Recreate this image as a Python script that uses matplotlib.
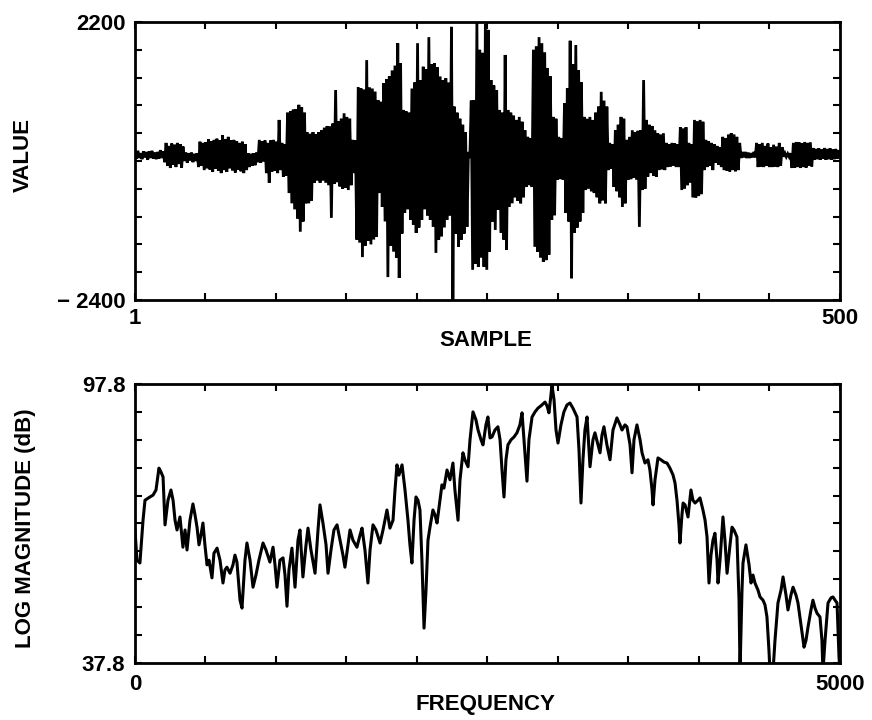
import matplotlib
matplotlib.use("Agg")
import matplotlib.pyplot as plt
import numpy as np

plt.rcParams['font.family'] = ['Liberation Sans', 'DejaVu Sans']
plt.rcParams['font.weight'] = 'bold'

# speech waveform, 500 samples
value = [
    40, -60, 70, -50, 30, -70, 60, -40, 50, -80,
    60, -50, 70, -60, 40, -70, 50, -60, 80, -50,
    60, -120, 200, -180, 150, -215, 190, -160, 170, -200,
    200, -150, 180, -210, 140, -100, 40, -130, 30, -90,
    40, -120, 20, -100, 30, -200, 220, -180, 200, -250,
    210, -220, 260, -240, 230, -280, 250, -230, 270, -260,
    240, -300, 330, -250, 260, -280, 300, -220, 240, -260,
    250, -290, 230, -240, 200, -270, 220, -300, 180, -250,
    30, -200, 20, -180, 30, -170, 40, -120, 250, -130,
    230, -110, 240, -300, 200, -460, 240, -280, 250, -260,
    220, -300, 580, -250, 200, -360, 180, -340, 700, -630,
    720, -800, 750, -900, 760, -1050, 830, -1270, 790, -1100,
    700, -800, 380, -800, 350, -760, 380, -460, 340, -420,
    380, -460, 410, -420, 450, -460, 480, -500, 470, -1040,
    520, -480, 1075, -450, 560, -520, 600, -560, 690, -540,
    630, -580, 600, -500, 250, -300, 240, -1400, 1125, -1450,
    1100, -1690, 1080, -1500, 1570, -1420, 1120, -1480, 1100, -1400,
    1050, -1350, 910, -630, 880, -860, 1190, -1100, 1250, -2020,
    1300, -1500, 1400, -1600, 1480, -1700, 1850, -2035, 1520, -1300,
    745, -960, 720, -900, 700, -1075, 1100, -1150, 1200, -1290,
    1850, -1200, 1240, -1075, 1460, -900, 1420, -1000, 1950, -1075,
    1500, -1190, 1520, -1620, 1450, -1400, 1300, -1350, 1240, -1200,
    1270, -1075, 1200, -1000, 2120, -2400, 800, -1300, 700, -1520,
    600, -1400, 500, -1300, 380, -1190, 50, -50, 900, -1900,
    910, -1800, 2185, -1850, 1740, -1700, 1690, -1850, 2170, -1900,
    2070, -1600, 1240, -1100, 1150, -1240, 1075, -910, 745, -1290,
    700, -1400, 1655, -1570, 745, -860, 700, -800, 650, -700,
    580, -760, 630, -800, 550, -700, 410, -530, 300, -500,
    280, -530, 1740, -1520, 1800, -1600, 1950, -1700, 1850, -1770,
    1700, -1740, 1440, -1650, 1300, -1075, 630, -1000, 600, -410,
    300, -400, 280, -410, 860, -960, 1100, -1100, 1890, -2040,
    1500, -1290, 1820, -1200, 1400, -1100, 1200, -960, 630, -580,
    600, -560, 630, -600, 580, -630, 700, -700, 800, -800,
    1045, -750, 900, -800, 800, -250, 200, -230, 180, -530,
    410, -600, 500, -700, 630, -860, 600, -800, 250, -410,
    300, -400, 410, -380, 380, -410, 400, -1190, 410, -580,
    1240, -560, 580, -360, 500, -300, 480, -340, 410, -360,
    360, -250, 340, -240, 360, -250, 200, -200, 180, -190,
    200, -180, 190, -200, 180, -200, 460, -580, 440, -560,
    460, -500, 200, -460, 180, -700, 580, -710, 560, -680,
    580, -650, 550, -250, 250, -200, 230, -180, 200, -250,
    180, -130, 150, -160, 130, -200, 300, -250, 280, -260,
    340, -280, 360, -250, 340, -270, 300, -250, 200, -50,
    50, -40, 50, -50, 40, -50, 30, -40, 50, -40,
    200, -200, 180, -190, 200, -200, 150, -180, 190, -200,
    130, -200, 170, -190, 140, -200, 200, -180, 130, -30,
    30, -30, 20, -30, 30, -215, 200, -210, 215, -200,
    210, -215, 190, -200, 215, -210, 200, -180, 210, -190,
    115, -80, 100, -70, 110, -80, 90, -60, 115, -80,
    100, -70, 110, -80, 90, -70, 100, -60, 80, -40,
]
sample = np.arange(1, len(value) + 1)

# log magnitude spectrum (Hz, dB)
freq = [
    0, 14, 35, 57, 71, 106, 128, 149, 170, 184, 199, 213, 234, 255, 270, 284,
    298, 319, 340, 355, 369, 390, 411, 426, 440, 454, 468, 482, 496, 511, 525,
    546, 560, 582, 603, 624, 638, 652, 674, 695, 709, 723, 745, 759, 780, 794,
    816, 837, 858, 879, 908, 929, 957, 979, 993, 1007, 1028, 1050, 1064, 1078,
    1092, 1113, 1135, 1156, 1170, 1191, 1213, 1227, 1248, 1277, 1298, 1312,
    1333, 1355, 1369, 1390, 1411, 1433, 1454, 1475, 1489, 1511, 1525, 1546,
    1574, 1596, 1610, 1631, 1652, 1667, 1688, 1709, 1738, 1759, 1787, 1808,
    1830, 1844, 1858, 1872, 1894, 1915, 1936, 1950, 1964, 1979, 1993, 2007,
    2021, 2035, 2050, 2064, 2078, 2092, 2113, 2128, 2142, 2163, 2177, 2191,
    2213, 2234, 2255, 2269, 2291, 2305, 2326, 2340, 2362, 2376, 2397, 2418,
    2433, 2454, 2468, 2489, 2503, 2518, 2532, 2553, 2574, 2589, 2603, 2617,
    2631, 2645, 2667, 2688, 2709, 2730, 2745, 2759, 2780, 2794, 2816, 2837,
    2858, 2879, 2908, 2922, 2936, 2950, 2957, 2972, 2986, 3000, 3021, 3042,
    3064, 3085, 3106, 3135, 3149, 3163, 3177, 3191, 3206, 3227, 3248, 3262,
    3284, 3298, 3312, 3326, 3347, 3369, 3390, 3418, 3440, 3454, 3475, 3489,
    3511, 3525, 3539, 3560, 3582, 3596, 3617, 3638, 3652, 3667, 3674, 3688,
    3709, 3730, 3752, 3773, 3794, 3816, 3830, 3844, 3858, 3865, 3879, 3887,
    3901, 3922, 3943, 3957, 3972, 3993, 4007, 4028, 4043, 4057, 4071, 4085,
    4099, 4113, 4128, 4135, 4149, 4170, 4184, 4199, 4220, 4234, 4248, 4269,
    4284, 4291, 4305, 4312, 4333, 4355, 4369, 4383, 4397, 4418, 4433, 4454,
    4468, 4482, 4496, 4504, 4525, 4539, 4560, 4582, 4596, 4617, 4631, 4652,
    4667, 4688, 4702, 4723, 4745, 4759, 4773, 4794, 4808, 4823, 4837, 4858,
    4872, 4879, 4894, 4915, 4936, 4950, 4965, 4979, 4993, 5000,
]
mag = [
    66.4, 59.9, 59.3, 68.5, 72.8, 73.5, 73.9, 75.0, 79.7, 78.9, 77.8, 67.5,
    72.8, 75.0, 72.8, 68.5, 66.4, 69.2, 62.7, 66.4, 62.1, 68.5, 72.0, 69.6,
    67.0, 63.2, 65.3, 67.9, 63.2, 58.9, 59.9, 56.1, 61.4, 62.5, 59.9, 55.0,
    57.8, 58.4, 57.1, 58.9, 61.0, 59.5, 51.3, 49.6, 59.9, 63.6, 59.9, 54.1,
    56.7, 59.9, 63.6, 62.1, 59.5, 62.7, 58.9, 54.1, 59.9, 60.4, 56.7, 50.0,
    57.8, 62.5, 54.1, 64.2, 66.4, 56.3, 63.2, 66.8, 62.1, 57.1, 66.4, 71.8,
    67.9, 63.2, 57.1, 62.1, 66.4, 67.5, 64.2, 61.0, 58.4, 63.2, 66.4, 64.2,
    62.7, 65.3, 66.8, 62.1, 55.0, 62.1, 67.5, 66.4, 63.6, 66.4, 70.7, 66.8,
    68.5, 75.0, 80.4, 78.2, 80.4, 75.0, 68.5, 63.2, 59.3, 68.5, 73.5, 72.8,
    70.7, 59.9, 45.3, 53.5, 64.2, 67.0, 70.7, 69.6, 67.9, 72.8, 76.1, 75.4,
    79.3, 77.2, 80.8, 75.0, 68.5, 77.2, 83.0, 81.5, 80.0, 85.8, 91.8, 90.1,
    87.9, 85.8, 84.7, 89.0, 90.7, 86.2, 86.4, 87.9, 88.6, 85.8, 79.3, 73.5,
    81.5, 84.7, 85.8, 86.4, 87.3, 89.0, 91.6, 85.8, 76.9, 85.8, 90.7, 91.8,
    92.6, 93.1, 93.9, 93.1, 91.6, 95.4, 97.6, 94.4, 87.9, 85.1, 89.0, 91.8,
    93.3, 93.7, 92.6, 90.7, 83.6, 72.2, 81.5, 87.9, 90.7, 80.0, 85.8, 87.3,
    84.7, 83.0, 86.8, 88.6, 84.7, 81.5, 87.9, 90.5, 89.0, 87.9, 89.0, 88.6,
    84.7, 78.7, 85.8, 89.0, 85.8, 83.0, 80.8, 81.5, 79.3, 75.0, 71.8, 77.2,
    81.9, 81.5, 81.0, 80.8, 79.7, 78.2, 76.5, 72.8, 67.5, 63.6, 69.6, 72.2,
    71.8, 69.2, 75.0, 72.8, 72.2, 72.8, 73.3, 70.7, 68.5, 64.9, 55.0, 61.0,
    64.2, 65.7, 59.9, 55.0, 59.9, 69.2, 64.2, 57.1, 63.2, 67.0, 66.4, 64.9,
    51.3, 36.0, 53.5, 59.3, 63.2, 58.9, 55.0, 56.7, 55.0, 53.5, 52.0, 51.3,
    50.3, 47.7, 40.6, 36.0, 36.0, 42.7, 50.7, 53.5, 56.3, 52.4, 49.2, 52.4,
    54.1, 52.4, 50.7, 46.0, 41.2, 42.7, 45.5, 49.2, 51.3, 49.6, 48.5, 47.7,
    42.7, 36.0, 42.7, 50.7, 51.8, 52.0, 51.3, 50.7, 39.1, 36.0,
]

top_yticklabels = ['\u2212 2400'] + [''] * 9 + ['2200']
top_xticklabels = ['1'] + [''] * 9 + ['500']
bot_yticklabels = ['37.8'] + [''] * 9 + ['97.8']
bot_xticklabels = ['0'] + [''] * 9 + ['5000']

fs = 16
fig = plt.figure(figsize=(8.72, 7.2), dpi=100)
ax1 = fig.add_axes([0.1548, 0.5833, 0.8085, 0.3861])
ax2 = fig.add_axes([0.1548, 0.0792, 0.8085, 0.3875])

# waveform
ax1.plot(sample, value, color='black', linewidth=2.0, solid_joinstyle='miter')
ax1.set_xlim(1, 500)
ax1.set_ylim(-2400, 2200)
ax1.set_xticks(np.linspace(1, 500, 11))
ax1.set_xticklabels(top_xticklabels)
ax1.set_yticks(np.linspace(-2400, 2200, 11))
ax1.set_yticklabels(top_yticklabels)
ax1.set_xlabel('SAMPLE', fontsize=fs, fontweight='bold', va='center')
ax1.xaxis.set_label_coords(0.497, -0.144)
ax1.set_ylabel('VALUE', fontsize=fs, fontweight='bold', va='center')
ax1.yaxis.set_label_coords(-0.158, 0.52)
ax1.tick_params(axis='x', pad=6)

# spectrum
ax2.plot(freq, mag, color='black', linewidth=2.2)
ax2.set_xlim(0, 5000)
ax2.set_ylim(37.8, 97.8)
ax2.set_xticks(np.linspace(0, 5000, 11))
ax2.set_xticklabels(bot_xticklabels)
ax2.set_yticks(np.linspace(37.8, 97.8, 11))
ax2.set_yticklabels(bot_yticklabels)
ax2.set_xlabel('FREQUENCY', fontsize=fs, fontweight='bold', va='center')
ax2.xaxis.set_label_coords(0.497, -0.148)
ax2.set_ylabel('LOG MAGNITUDE (dB)', fontsize=fs, fontweight='bold', va='center')
ax2.yaxis.set_label_coords(-0.155, 0.484)
ax2.tick_params(axis='x', pad=8)

for ax in (ax1, ax2):
    ax.tick_params(direction='in', top=True, right=True, length=5, width=1.5,
                   labelsize=fs)
    ax.tick_params(axis='y', pad=7)
    for lab in ax.get_xticklabels() + ax.get_yticklabels():
        lab.set_fontweight('bold')
    for sp in ax.spines.values():
        sp.set_linewidth(2.0)

fig.savefig('out.png', dpi=100, facecolor='white')
